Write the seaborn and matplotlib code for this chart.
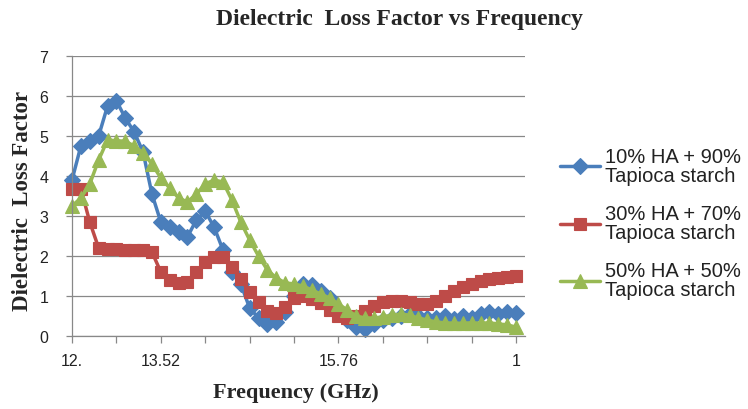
import numpy as np
import pandas as pd
import matplotlib
matplotlib.use("Agg")
import matplotlib.pyplot as plt
import seaborn as sns

# ---------------- data ----------------
freq = [12.4, 12.512, 12.624, 12.736, 12.848, 12.96, 13.072, 13.184, 13.296, 13.408,
        13.52, 13.632, 13.744, 13.856, 13.968, 14.08, 14.192, 14.304, 14.416, 14.528,
        14.64, 14.752, 14.864, 14.976, 15.088, 15.2, 15.312, 15.424, 15.536, 15.648,
        15.76, 15.872, 15.984, 16.096, 16.208, 16.32, 16.432, 16.544, 16.656, 16.768,
        16.88, 16.992, 17.104, 17.216, 17.328, 17.44, 17.552, 17.664, 17.776, 17.888,
        18.0]

ha10 = [3.9, 4.75, 4.88, 5.0, 5.75, 5.88, 5.45, 5.1, 4.6, 3.55,
        2.85, 2.72, 2.6, 2.48, 2.9, 3.12, 2.72, 2.15, 1.6, 1.3,
        0.7, 0.45, 0.3, 0.35, 0.6, 1.0, 1.3, 1.27, 1.12, 0.95,
        0.65, 0.4, 0.22, 0.18, 0.3, 0.4, 0.45, 0.5, 0.55, 0.5,
        0.45, 0.45, 0.5, 0.42, 0.5, 0.45, 0.55, 0.6, 0.55, 0.6,
        0.58]

ha30 = [3.68, 3.68, 2.85, 2.2, 2.18, 2.17, 2.15, 2.15, 2.15, 2.1,
        1.6, 1.4, 1.33, 1.35, 1.6, 1.85, 1.97, 1.97, 1.72, 1.42,
        1.1, 0.85, 0.62, 0.58, 0.72, 0.95, 1.0, 0.93, 0.82, 0.65,
        0.5, 0.45, 0.5, 0.62, 0.75, 0.85, 0.88, 0.88, 0.85, 0.8,
        0.8, 0.88, 1.0, 1.12, 1.22, 1.3, 1.37, 1.42, 1.45, 1.48,
        1.5]

ha50 = [3.25, 3.45, 3.8, 4.4, 4.9, 4.88, 4.87, 4.75, 4.58, 4.3,
        3.95, 3.7, 3.45, 3.35, 3.55, 3.8, 3.9, 3.85, 3.4, 2.85,
        2.4, 2.0, 1.65, 1.45, 1.33, 1.3, 1.25, 1.15, 1.05, 0.95,
        0.8, 0.65, 0.5, 0.45, 0.45, 0.48, 0.52, 0.55, 0.52, 0.45,
        0.4, 0.35, 0.33, 0.32, 0.32, 0.33, 0.32, 0.33, 0.3, 0.28,
        0.22]

series_names = ["10% HA + 90%\nTapioca starch",
                "30% HA + 70%\nTapioca starch",
                "50% HA + 50%\nTapioca starch"]
series_colors = ["#4A7EBB", "#BE4B48", "#98B954"]
series_markers = ["D", "s", "^"]

x_tick_values = [12.4, 12.96, 13.52, 14.08, 14.64, 15.2, 15.76, 16.32, 16.88, 17.44, 18.0]
x_tick_labels = ["12.", "", "13.52", "", "", "", "15.76", "", "", "", "1"]
y_ticks = [0, 1, 2, 3, 4, 5, 6, 7]

title = "Dielectric  Loss Factor vs Frequency"
x_label = "Frequency (GHz)"
y_label = "Dielectric  Loss Factor"

# ---------------- frame ----------------
df = pd.DataFrame({"freq": freq, series_names[0]: ha10,
                   series_names[1]: ha30, series_names[2]: ha50})
long_df = df.melt(id_vars="freq", var_name="series", value_name="value")

sns.set_style("white")
plt.rcParams["font.family"] = ["Liberation Sans", "DejaVu Sans"]

W, H = 748, 410
fig = plt.figure(figsize=(W / 100, H / 100), dpi=100)
left, right, top, bottom = 72, 525, 57, 337
ax = fig.add_axes([left / W, 1 - bottom / H, (right - left) / W, (bottom - top) / H])

sns.lineplot(data=long_df, x="freq", y="value", hue="series", style="series",
             hue_order=series_names, style_order=series_names,
             palette=dict(zip(series_names, series_colors)),
             markers=dict(zip(series_names, series_markers)),
             dashes=False, sort=False, legend=False, ax=ax,
             linewidth=2.5, markersize=8.5)

for ln in ax.lines:
    ln.set_markeredgecolor(ln.get_color())
    ln.set_markerfacecolor(ln.get_color())
    ln.set_markeredgewidth(0.8)
    ln.set_clip_on(False)
ax.lines[0].set_markersize(8.0)
ax.lines[2].set_markersize(9.5)

ax.set_xlim(12.4, 18.112)
ax.set_ylim(0, 7)
ax.set_xticks(x_tick_values)
ax.set_xticklabels(x_tick_labels)
ax.set_yticks(y_ticks)
ax.set_yticklabels([str(v) for v in y_ticks])

grid_c = "#888888"
ax.yaxis.grid(True, color=grid_c, linewidth=0.9)
ax.xaxis.grid(False)
ax.set_axisbelow(True)
for s in ["top", "right"]:
    ax.spines[s].set_visible(False)
for s in ["left", "bottom"]:
    ax.spines[s].set_color(grid_c)
    ax.spines[s].set_linewidth(0.9)

ax.tick_params(axis="y", which="both", left=True, length=4, width=0.9, color=grid_c,
               direction="out", pad=13, labelsize=11.5, labelcolor="#222222")
ax.tick_params(axis="x", which="both", bottom=True, length=5, width=0.9, color=grid_c,
               direction="out", pad=7, labelsize=11.5, labelcolor="#222222")

serif_bold = dict(family=["Liberation Serif", "DejaVu Serif"], weight="bold")
ax.set_xlabel(x_label, fontsize=16, **serif_bold)
ax.xaxis.set_label_coords((296 - left) / (right - left), -(383 - bottom) / (bottom - top))
ax.set_ylabel(y_label, fontsize=16.5, **serif_bold)
ax.yaxis.set_label_coords((33 - left) / (right - left), (bottom - 201) / (bottom - top))

fig.text(400 / W, 1 - 19 / H, title, ha="center", va="center", fontsize=17, **serif_bold)

leg = fig.legend(handles=ax.lines[:3], labels=series_names, loc="upper left",
                 bbox_to_anchor=(560 / W, 1 - 148 / H), frameon=False,
                 fontsize=14.5, handlelength=2.0, handletextpad=0.25,
                 labelspacing=0.95, borderpad=0, borderaxespad=0)
for t in leg.get_texts():
    t.set_color("#222222")
    t.set_linespacing(1.0)

fig.savefig("out.png", dpi=100)
